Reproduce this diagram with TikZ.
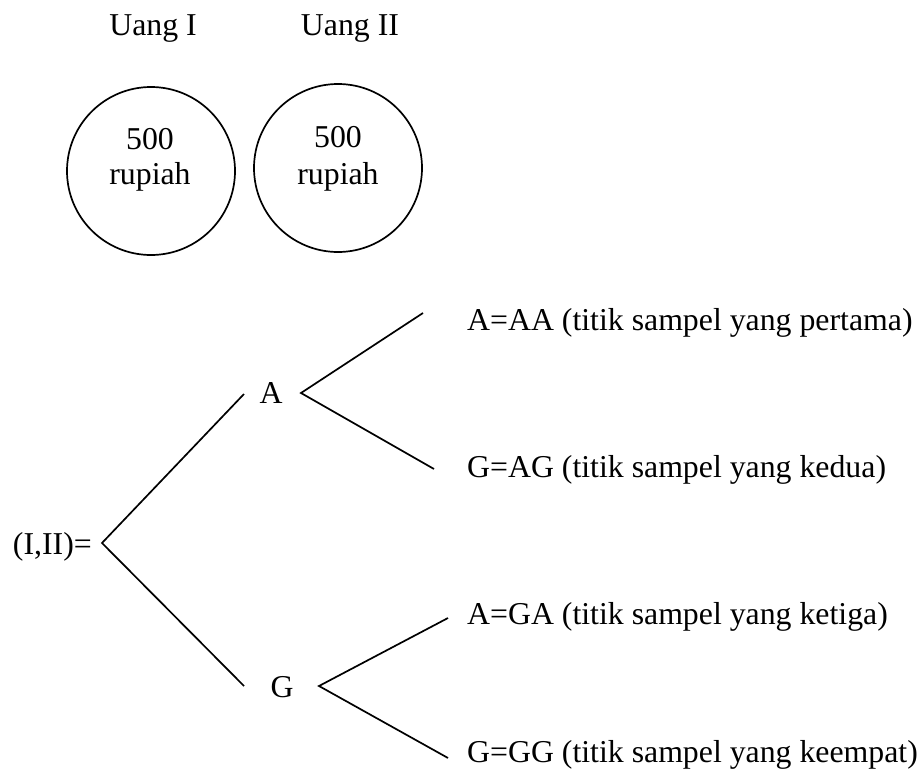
\documentclass[tikz,border=0pt]{standalone}
\usepackage{fontspec}
\setmainfont{Liberation Serif}
\usetikzlibrary{positioning}

\tikzset{
  txt/.style={font=\fontsize{31.8}{35}\selectfont, inner sep=0pt},
  coin/.style={draw, circle, line width=1.7pt, minimum size=168pt, inner sep=0pt},
  branch/.style={line width=1.7pt},
}

\begin{document}
\begin{tikzpicture}[x=1pt,y=-1pt]
    \useasboundingbox (0,0) rectangle (922,779);

    % two coins
    \node[txt, anchor=base] (uang1) at (153,35) {Uang I};
    \node[txt, anchor=base] (uang2) at (350,35) {Uang II};
    \node[coin] (coin1) at (151,171) {};
    \node[coin] (coin2) at (338,168) {};
    \node[txt, anchor=base] (nilai1) at (150,149) {500};
    \node[txt, anchor=base] (rp1) at (150,184) {rupiah};
    \node[txt, anchor=base] (nilai2) at (338,147) {500};
    \node[txt, anchor=base] (rp2) at (338,184) {rupiah};

    % tree diagram
    \node[txt, anchor=base east] (root) at (92,554) {(I,II)=};
    \node[txt, anchor=base] (a) at (271,403) {A};
    \node[txt, anchor=base] (g) at (282,697) {G};
    \node[txt, anchor=base west] (aa) at (467,330) {A=AA (titik sampel yang pertama)};
    \node[txt, anchor=base west] (ag) at (467,477) {G=AG (titik sampel yang kedua)};
    \node[txt, anchor=base west] (ga) at (467,624) {A=GA (titik sampel yang ketiga)};
    \node[txt, anchor=base west] (gg) at (467,762) {G=GG (titik sampel yang keempat)};

    % branch points
    \coordinate (r0) at (102,543);
    \coordinate (a0) at (244,394);
    \coordinate (a1) at (301,393);
    \coordinate (g0) at (244,686);
    \coordinate (g1) at (319,686);
    \coordinate (aa0) at (423,313);
    \coordinate (ag0) at (434,469);
    \coordinate (ga0) at (448,618);
    \coordinate (gg0) at (448,758);

    \draw[branch] (a0) -- (r0) -- (g0);
    \draw[branch] (aa0) -- (a1) -- (ag0);
    \draw[branch] (ga0) -- (g1) -- (gg0);
\end{tikzpicture}
\end{document}
